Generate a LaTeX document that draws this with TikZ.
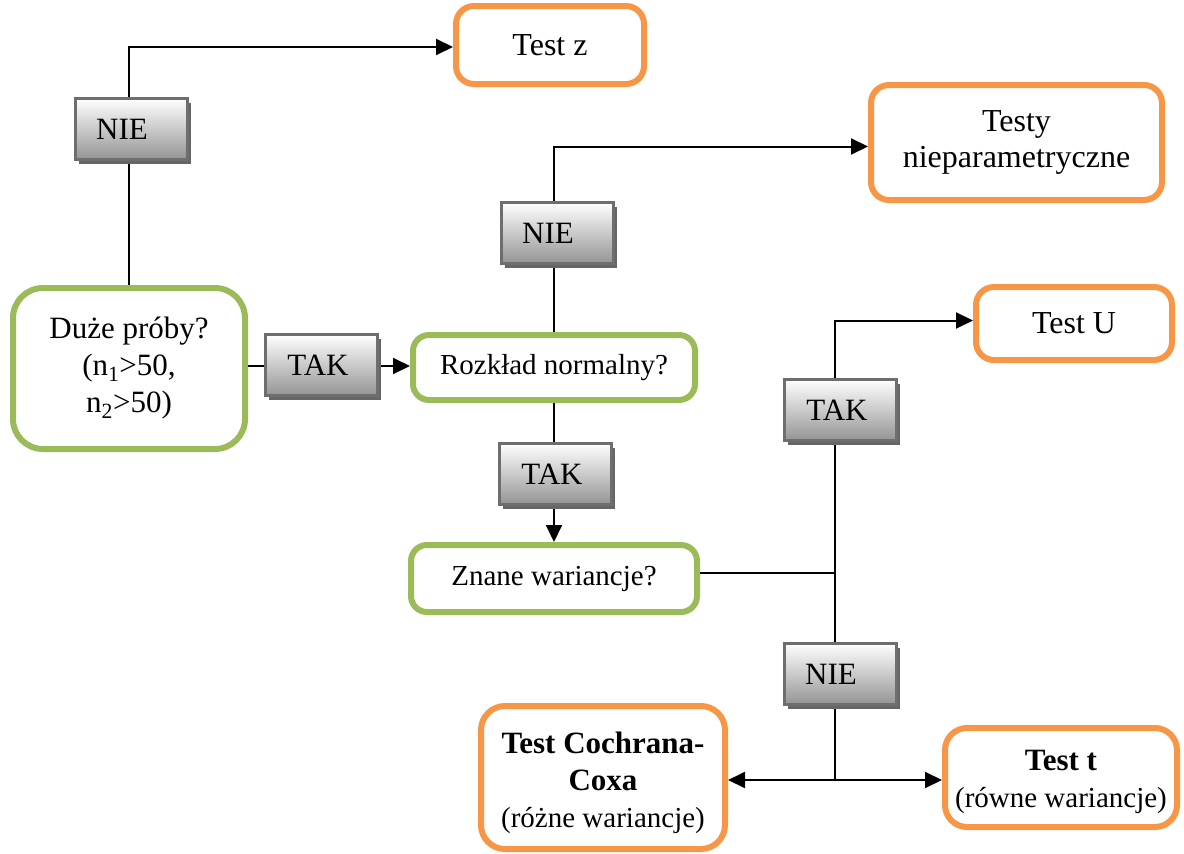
\documentclass[tikz,border=0pt]{standalone}
\usepackage{fontspec}
\setmainfont{Liberation Serif}
\usetikzlibrary{arrows.meta,shadows}
\definecolor{accOrange}{HTML}{F79646}
\definecolor{accGreen}{HTML}{9BBB59}
\definecolor{tagEdge}{HTML}{6E6E6E}
\begin{document}
\begin{tikzpicture}[x=1pt,y=-1pt,
  outbox/.style={draw=accOrange, line width=6pt, rounded corners=18pt, fill=white,
    align=center, inner sep=0pt, font=\fontsize{32}{36}\selectfont},
  askbox/.style={draw=accGreen, line width=6pt, rounded corners=16pt, fill=white,
    align=center, inner sep=0pt, font=\fontsize{29}{36}\selectfont},
  tagbox/.style={draw=tagEdge, line width=3pt, top color=white, bottom color=black!42,
    minimum width=112pt, minimum height=61pt, inner sep=0pt,
    font=\fontsize{31}{36}\selectfont,
    general shadow={fill=black!60, shadow xshift=4pt, shadow yshift=-4pt}},
  link/.style={line width=2pt},
  arr/.style={link, -{Triangle[length=17pt,width=16pt]}}
]
\useasboundingbox (0,0) rectangle (1184,854);

% question boxes
\node[askbox, rounded corners=30pt, font=\fontsize{31}{37}\selectfont,
      minimum width=232pt, minimum height=161pt] (duze) at (129,368.5)
      {Duże próby?\\(n\textsubscript{1}>50,\\n\textsubscript{2}>50)};
\node[askbox, minimum width=282pt, minimum height=65pt] (rozklad) at (554,367.5)
      {Rozkład normalny?};
\node[askbox, minimum width=286pt, minimum height=67pt] (znane) at (554,578.5)
      {Znane wariancje?};

% result boxes
\node[outbox, minimum width=188pt, minimum height=78pt] (testz) at (550,45) {Test z};
\node[outbox, minimum width=291pt, minimum height=115pt] (testy) at (1016.5,142.5)
      {Testy\\nieparametryczne};
\node[outbox, minimum width=196pt, minimum height=73pt] (testu) at (1074,323.5) {Test U};
\node[outbox, rounded corners=24pt, minimum width=244pt, minimum height=143pt,
      font=\fontsize{29}{37}\selectfont] (cochran) at (603,777.5)
      {\rule{0pt}{32pt}{\fontsize{31}{37}\selectfont\bfseries Test Cochrana-}\\
       {\fontsize{31}{37}\selectfont\bfseries Coxa}\\(różne wariancje)};
\node[outbox, rounded corners=22pt, minimum width=232pt, minimum height=99pt,
      font=\fontsize{29}{37}\selectfont] (testt) at (1061,777.5)
      {\rule{0pt}{30pt}{\fontsize{31}{37}\selectfont\bfseries Test t}\\(równe wariancje)};

% connectors
\path ([yshift=6pt]znane.east) coordinate (zright);
\coordinate (split) at (zright -| 835,0);
\coordinate (fork) at (835,780);
\draw[arr] (duze.north) |- ([yshift=-2pt]testz.west);
\draw[arr] (rozklad.north) |- ([yshift=-4pt]testy.west);
\draw[arr] (duze.east |- 0,366) -- (rozklad.west |- 0,366);
\draw[arr] (rozklad.south) -- (znane.north);
\draw[link] (zright) -- (split);
\draw[arr] (split) |- ([yshift=3pt]testu.west);
\draw[link] (split) -- (fork);
\draw[arr] (fork) -- (fork -| cochran.east);
\draw[arr] (fork) -- (fork -| testt.west);

% answer tags on the connectors
\node[tagbox] (nie1) at (131,129) {\hspace*{-18pt}NIE};
\node[tagbox] (nie2) at (557,233) {\hspace*{-18pt}NIE};
\node[tagbox] (tak1) at (321,365) {\hspace*{-6pt}TAK};
\node[tagbox] (tak2) at (555,474) {\hspace*{-6pt}TAK};
\node[tagbox] (tak3) at (840,410) {\hspace*{-6pt}TAK};
\node[tagbox] (nie4) at (840,674) {\hspace*{-18pt}NIE};
\end{tikzpicture}
\end{document}
